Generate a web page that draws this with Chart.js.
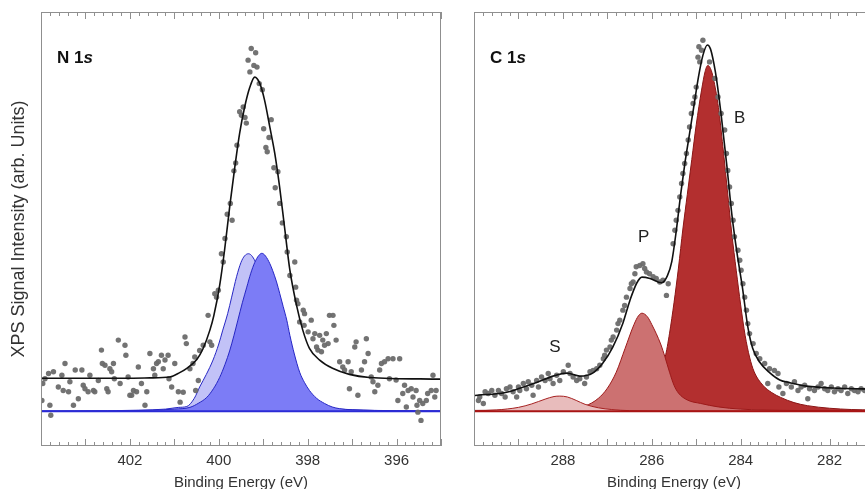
<!DOCTYPE html>
<html>
<head>
<meta charset="utf-8">
<script src="https://cdn.jsdelivr.net/npm/chart.js@4.4.1/dist/chart.umd.min.js"></script>
<style>
  html, body { margin: 0; padding: 0; background: #fff; }
  body { width: 865px; height: 489px; overflow: hidden; position: relative; }
  .panel { position: absolute; top: 0; width: 450px; height: 489px; }
</style>
</head>
<body>
<div class="panel" style="left:0"><canvas id="n1s" width="450" height="489"></canvas></div>
<div class="panel" style="left:450px"><canvas id="c1s" width="450" height="489"></canvas></div>
<script>
// ---- N 1s panel ----
const n1sTicks = [402, 400, 398, 396];
const n1sPtsBE = [403.98,403.96,403.91,403.83,403.80,403.78,403.72,403.61,403.53,403.50,403.46,403.38,403.35,403.27,403.23,403.16,403.08,403.05,403.01,402.94,402.90,402.82,402.79,402.71,402.64,402.62,402.56,402.52,402.49,402.45,402.41,402.37,402.35,402.26,402.22,402.11,402.09,402.04,402.00,401.96,401.92,401.85,401.81,401.74,401.66,401.62,401.55,401.47,401.44,401.40,401.36,401.29,401.25,401.21,401.14,401.12,401.06,400.99,400.91,
  400.87,400.80,400.76,400.73,400.65,400.58,400.54,400.52,400.46,400.43,400.35,400.24,400.20,400.16,400.09,400.05,400.01,399.94,399.90,399.86,
  399.81,399.74,399.70,399.66,399.62,399.59,399.53,399.49,399.45,399.41,399.38,399.34,399.30,399.27,399.21,399.17,399.14,399.09,399.02,398.99,398.94,398.91,398.87,398.82,398.76,398.73,398.67,398.63,398.57,
  398.48,398.46,398.40,398.29,398.27,398.25,398.22,398.18,398.10,398.08,398.07,397.99,397.92,397.88,397.84,397.80,397.77,397.73,397.69,397.66,397.62,397.58,397.54,397.51,397.43,397.41,397.36,397.28,397.21,397.17,397.09,397.06,397.02,396.94,396.91,396.87,396.79,396.72,396.68,396.64,396.57,396.53,396.49,396.42,396.38,396.34,396.27,396.19,396.16,396.08,396.01,395.97,395.93,395.86,395.82,395.78,395.74,395.67,395.63,395.56,395.54,395.52,395.48,395.45,395.41,395.33,395.30,395.22,395.18,395.14,395.11];
const n1sPtsInt = [2.5,6.4,7.5,8.7,1.4,-0.9,9.1,5.6,8.3,4.8,11.0,4.5,6.8,1.4,9.5,2.9,9.5,6.0,5.2,4.5,8.3,4.8,4.5,7.1,14.1,11.0,10.6,5.2,4.5,9.8,9.1,11.0,7.5,16.4,6.4,15.2,12.9,7.9,3.7,3.7,4.8,4.5,10.2,6.4,1.4,4.5,13.3,9.8,8.3,11.0,11.4,12.9,9.8,11.8,12.9,7.5,5.6,11.0,4.5,
  2.1,4.4,17.1,15.6,9.8,11.0,12.5,4.8,7.1,14.0,15.2,22.1,16.0,15.2,27.1,26.3,27.9,36.3,34.4,39.8,
  45.4,47.9,44.0,55.4,57.2,61.3,69.0,68.2,70.1,67.7,66.4,80.9,78.2,83.6,79.7,82.6,79.3,75.5,74.1,65.1,60.8,59.8,63.1,67.2,56.1,51.5,55.2,47.9,43.4,
  40.2,36.7,31.3,34.4,28.6,25.6,24.8,20.6,23.3,19.8,22.5,18.3,21.0,16.7,17.9,14.8,14.1,17.5,13.7,16.4,15.2,17.9,15.6,22.1,22.1,19.8,16.4,11.4,10.2,9.5,11.4,5.2,9.1,14.8,16.0,3.7,9.5,11.4,16.7,13.3,7.9,6.8,4.5,6.0,9.5,11.0,11.4,12.1,7.5,12.1,7.2,2.5,12.1,4.1,6.0,1.0,4.8,5.2,3.3,4.8,1.4,-0.2,2.5,-2.1,1.8,2.5,4.1,4.8,8.3,3.3,4.8];
const n1sFitBE = [404.0,402.5,401.55,401.1,400.88,400.72,400.49,400.36,400.2,400.11,399.98,399.87,399.75,399.64,399.53,399.42,399.3,399.19,399.08,398.97,398.85,398.74,398.63,398.52,398.4,398.25,398.11,397.96,397.73,397.44,397.06,396.61,395.0];
const n1sFitInt = [7.6,7.6,7.7,7.9,8.9,9.9,12.0,14.3,18.7,22.1,29.0,37.1,47.5,56.2,64.1,70.0,74.7,77.0,75.6,71.7,65.4,59.4,51.6,42.4,32.5,24.4,18.7,14.5,11.8,9.9,8.5,7.8,7.4];
const n1sHiBE = [404.0,402.5,401.8,401.2,400.9,400.72,400.55,400.43,400.28,400.13,400.0,399.91,399.8,399.71,399.6,399.5,399.42,399.33,399.24,399.1,398.95,398.8,398.65,398.5,398.3,398.1,397.9,397.6,397.0,396.0,395.0];
const n1sHiInt = [0.05,0.12,0.25,0.5,0.9,1.1,3.0,5.6,8.5,11.8,15.5,18.7,22.5,26.3,31.0,34.3,35.8,36.3,35.6,32.5,26.5,20.0,14.0,9.5,5.5,3.0,1.6,0.8,0.35,0.12,0.06];
const n1sLoBE = [404.0,402.5,401.5,401.0,400.65,400.45,400.27,400.12,399.98,399.86,399.75,399.66,399.57,399.47,399.37,399.28,399.19,399.1,399.03,398.95,398.85,398.79,398.7,398.63,398.55,398.47,398.4,398.3,398.18,398.07,397.96,397.8,397.62,397.45,397.28,397.0,396.5,395.0];
const n1sLoInt = [0.04,0.1,0.25,0.5,0.9,1.9,3.2,5.2,7.8,10.8,14.1,17.4,21.0,25.0,28.6,31.8,34.3,35.9,36.4,35.8,34.0,32.5,29.8,27.2,24.1,21.0,17.5,13.2,9.0,6.6,4.8,3.0,1.8,1.0,0.6,0.35,0.2,0.08];
const n1sBaseBE = [404.0, 395.0];
const n1sBaseInt = [0, 0];

// ---- C 1s panel ----
const c1sTicks = [288, 286, 284, 282];
const c1sPtsBE = [289.90,289.87,289.79,289.75,289.68,289.60,289.53,289.45,289.38,289.30,289.27,289.19,289.12,289.04,289.00,288.97,288.89,288.82,288.78,288.70,288.67,288.59,288.55,288.48,288.40,288.33,288.29,288.22,288.14,288.07,287.99,287.88,287.84,287.77,287.69,287.62,287.51,287.47,287.39,287.32,287.24,287.17,287.09,287.06,287.02,286.94,286.91,286.87,286.79,286.76,286.72,286.65,286.61,286.57,286.49,286.46,286.42,286.38,286.35,286.27,286.20,286.16,286.12,286.05,285.97,285.90,285.82,285.75,285.67,285.63,
  285.52,285.48,285.45,285.41,285.37,285.33,285.30,285.26,285.22,285.18,285.15,285.11,285.07,285.03,285.00,284.96,284.94,284.92,284.88,284.85,284.70,284.58,284.51,284.44,284.36,284.32,284.29,284.25,284.21,284.17,284.14,
  284.06,284.02,283.99,283.95,283.91,283.87,283.84,283.80,283.72,283.65,283.57,283.46,283.39,283.35,283.24,283.16,283.14,
  283.05,282.97,282.86,282.79,282.71,282.64,282.56,282.49,282.45,282.34,282.26,282.19,282.11,282.04,281.96,281.89,281.81,281.74,281.66,281.59,281.51,281.44,281.36,281.29,281.21];
const c1sPtsInt = [2.5,3.3,1.8,4.5,4.1,4.8,3.7,4.8,4.1,3.3,5.2,5.6,4.5,3.3,5.6,4.8,6.4,5.2,6.8,6.0,3.7,7.1,5.6,7.9,7.1,8.7,7.5,6.4,8.3,7.1,9.1,10.6,8.7,7.9,7.1,7.5,6.4,7.9,9.1,9.4,9.8,10.6,12.1,12.9,14.1,14.8,16.4,17.1,18.7,20.2,21.0,23.3,24.4,26.3,28.3,29.4,29.8,31.7,33.3,33.6,34.0,32.9,32.1,31.7,31.0,30.6,29.8,30.2,26.7,29.4,
  38.6,41.7,44.0,46.3,49.4,52.5,54.8,57.1,59.4,62.5,65.5,68.6,70.9,72.4,74.7,81.6,84.0,80.5,83.2,85.5,80.5,76.7,72.4,68.6,64.8,59.4,55.5,51.7,47.9,44.0,40.2,
  37.1,34.8,32.5,29.4,26.3,23.3,20.2,17.9,15.6,13.3,12.1,11.0,6.4,9.8,9.4,8.7,5.6,
  4.1,6.4,5.6,6.8,4.8,5.6,6.0,2.9,5.2,4.8,5.6,6.4,5.2,4.8,5.6,4.5,5.2,4.8,5.6,4.1,5.2,4.8,4.5,5.2,4.8];
const c1sFitBE = [290.0,289.93,289.35,288.97,288.58,288.22,287.91,287.62,287.33,287.1,286.88,286.65,286.49,286.34,286.22,286.04,285.78,285.65,285.55,285.45,285.35,285.25,285.15,285.05,284.95,284.85,284.75,284.68,284.6,284.54,284.43,284.31,284.2,284.09,283.96,283.84,283.73,283.57,283.35,283.12,282.9,282.52,281.78,281.0];
const c1sFitInt = [3.6,3.7,4.2,5.3,6.7,8.1,8.8,8.1,8.8,11.1,14.7,20.3,25.6,29.5,30.9,30.6,29.6,31.2,34.5,41.5,50.0,57.5,64.0,70.5,77.0,82.0,84.4,83.5,80.0,76.3,67.5,56.5,45.5,37.0,28.5,19.5,14.5,11.3,8.9,7.2,6.6,5.8,5.3,5.1];
const c1sB_BE = [290.0,289.0,288.0,287.5,287.0,286.5,286.2,286.0,285.9,285.8,285.7,285.6,285.5,285.4,285.3,285.2,285.1,285.0,284.88,284.8,284.74,284.66,284.6,284.5,284.4,284.3,284.2,284.1,284.0,283.9,283.8,283.7,283.5,283.3,283.1,282.8,282.5,282.0,281.5,281.0];
const c1sB_Int = [0.2,0.3,0.6,1.0,1.6,2.8,4.0,5.5,8.0,10.5,12.5,18.0,25.0,33.0,42.0,50.0,58.0,66.0,74.0,78.3,79.7,78.5,76.0,70.0,61.0,51.0,41.0,32.5,24.5,17.5,12.5,9.2,6.0,4.3,3.2,2.0,1.3,0.7,0.4,0.3];
const c1sP_BE = [290.0,289.0,288.3,287.8,287.5,287.2,287.0,286.8,286.6,286.4,286.3,286.22,286.1,286.0,285.8,285.7,285.6,285.5,285.4,285.2,284.9,284.5,284.0,283.0,281.0];
const c1sP_Int = [0.05,0.15,0.3,0.5,1.2,3.0,5.3,9.0,14.5,20.0,22.0,22.6,21.8,20.0,15.5,12.4,9.0,6.0,4.2,2.6,1.8,1.0,0.5,0.2,0.05];
const c1sS_BE = [290.0,289.5,289.0,288.7,288.4,288.2,288.07,287.9,287.7,287.5,287.2,286.9,286.5,285.0,281.0];
const c1sS_Int = [0.1,0.3,0.9,1.7,2.8,3.4,3.5,3.3,2.5,1.6,0.8,0.4,0.15,0.05,0.02];
const c1sBaseBE = [290.0, 281.0];
const c1sBaseInt = [0, 0];
const c1sPeakNames = ['S', 'P', 'B'];
const c1sPeakBE = [288.18, 286.18, 284.02];
const c1sPeakInt = [14.7, 40.1, 67.5];

const FONT = "'Liberation Sans', Arial, sans-serif";
const pts = (xs, ys) => xs.map((x, i) => ({ x: x, y: ys[i] }));

// frame, inward ticks, panel label, peak names
const decoPlugin = {
  id: 'deco',
  afterDraw(chart, args, opts) {
    const { ctx, chartArea: a, scales: { x, y } } = chart;
    ctx.save();
    ctx.strokeStyle = '#8f8f8f';
    ctx.lineWidth = 1;
    ctx.strokeRect(a.left + 0.5, a.top + 0.5, a.right - a.left - 1, a.bottom - a.top - 1);
    const lo = Math.min(x.min, x.max), hi = Math.max(x.min, x.max);
    ctx.beginPath();
    for (let k = Math.ceil(lo * 5); k <= Math.floor(hi * 5); k++) {
      const px = Math.round(x.getPixelForValue(k / 5)) + 0.5;
      const len = k % 5 === 0 ? 7 : 4;
      ctx.moveTo(px, a.bottom); ctx.lineTo(px, a.bottom - len);
      ctx.moveTo(px, a.top); ctx.lineTo(px, a.top + len);
    }
    ctx.stroke();

    // panel label, e.g. "N 1s" with italic s
    ctx.fillStyle = '#111';
    ctx.textBaseline = 'alphabetic';
    ctx.font = 'bold 17px ' + FONT;
    const tx = a.left + 16, ty = a.top + 51;
    ctx.fillText(opts.label, tx, ty);
    const w = ctx.measureText(opts.label).width;
    ctx.font = 'italic bold 17px ' + FONT;
    ctx.fillText('s', tx + w, ty);

    if (opts.names) {
      ctx.font = '17px ' + FONT;
      ctx.fillStyle = '#222';
      ctx.textAlign = 'center';
      ctx.textBaseline = 'middle';
      opts.names.forEach((n, i) => {
        ctx.fillText(n, x.getPixelForValue(opts.be[i]), y.getPixelForValue(opts.val[i]));
      });
    }
    ctx.restore();
  }
};

function makeChart(id, cfg) {
  const lineDs = (xs, ys, color, width, order) => ({
    data: pts(xs, ys), borderColor: color, borderWidth: width, pointRadius: 0,
    cubicInterpolationMode: 'monotone', fill: false, order: order
  });
  const areaDs = (xs, ys, fillColor, edge, order) => ({
    data: pts(xs, ys), borderColor: edge, borderWidth: 1, backgroundColor: fillColor,
    pointRadius: 0, cubicInterpolationMode: 'monotone', fill: 'origin', order: order
  });
  const datasets = [
    lineDs(cfg.fitBE, cfg.fitInt, '#111', 1.6, 0),
    { data: pts(cfg.ptsBE, cfg.ptsInt), showLine: false, pointRadius: 2.7, pointBorderWidth: 0,
      pointBackgroundColor: 'rgba(108,108,108,0.95)', order: 1 },
    lineDs(cfg.baseBE, cfg.baseInt, cfg.baseColor, 2, 2)
  ];
  cfg.areas.forEach((ar, i) => datasets.push(areaDs(ar.be, ar.val, ar.fill, ar.edge, 3 + i)));

  return new Chart(document.getElementById(id), {
    type: 'line',
    data: { datasets: datasets },
    plugins: [decoPlugin],
    options: {
      responsive: false,
      animation: false,
      devicePixelRatio: 1,
      layout: { padding: cfg.padding },
      plugins: {
        legend: { display: false },
        tooltip: { enabled: false },
        deco: { label: cfg.label, names: cfg.names, be: cfg.namesBE, val: cfg.namesInt }
      },
      scales: {
        x: {
          type: 'linear', min: cfg.xmin, max: cfg.xmax, reverse: true,
          grid: { display: false, drawTicks: false }, border: { display: false },
          ticks: { font: { family: FONT, size: 15 }, color: '#333', padding: 6, maxRotation: 0, autoSkip: false },
          afterBuildTicks: s => { s.ticks = cfg.ticks.map(v => ({ value: v })); },
          afterFit: s => { s.height = 43; },
          title: { display: true, text: 'Binding Energy (eV)', color: '#333',
                   font: { family: FONT, size: 15 }, padding: { top: 0, bottom: -3 } }
        },
        y: {
          type: 'linear', min: -8, max: 92, display: cfg.yTitle ? true : false,
          grid: { display: false, drawTicks: false }, border: { display: false },
          ticks: { display: false },
          afterFit: s => { s.width = cfg.yWidth; },
          title: { display: !!cfg.yTitle, text: cfg.yTitle || '', color: '#333',
                   font: { family: FONT, size: 18 }, padding: { top: 8, bottom: 0 } }
        }
      }
    }
  });
}

makeChart('n1s', {
  xmin: 395, xmax: 404, ticks: n1sTicks, label: 'N 1',
  yTitle: 'XPS Signal Intensity (arb. Units)', yWidth: 41,
  padding: { left: 0, right: 9, top: 12, bottom: 0 },
  ptsBE: n1sPtsBE, ptsInt: n1sPtsInt, fitBE: n1sFitBE, fitInt: n1sFitInt,
  baseBE: n1sBaseBE, baseInt: n1sBaseInt, baseColor: '#2b2bd6',
  areas: [
    { be: n1sLoBE, val: n1sLoInt, fill: '#7c7cf6', edge: '#2626c4' },
    { be: n1sHiBE, val: n1sHiInt, fill: '#c2c2f7', edge: '#2626c4' }
  ]
});

makeChart('c1s', {
  xmin: 281, xmax: 290, ticks: c1sTicks, label: 'C 1', yWidth: 0,
  padding: { left: 24, right: 26, top: 12, bottom: 0 },
  ptsBE: c1sPtsBE, ptsInt: c1sPtsInt, fitBE: c1sFitBE, fitInt: c1sFitInt,
  baseBE: c1sBaseBE, baseInt: c1sBaseInt, baseColor: '#a81414',
  names: c1sPeakNames, namesBE: c1sPeakBE, namesInt: c1sPeakInt,
  areas: [
    { be: c1sS_BE, val: c1sS_Int, fill: '#e8bcbc', edge: '#a52020' },
    { be: c1sP_BE, val: c1sP_Int, fill: '#cc7171', edge: '#9c1a1a' },
    { be: c1sB_BE, val: c1sB_Int, fill: '#b32f2f', edge: '#8a1515' }
  ]
});
</script>
</body>
</html>
